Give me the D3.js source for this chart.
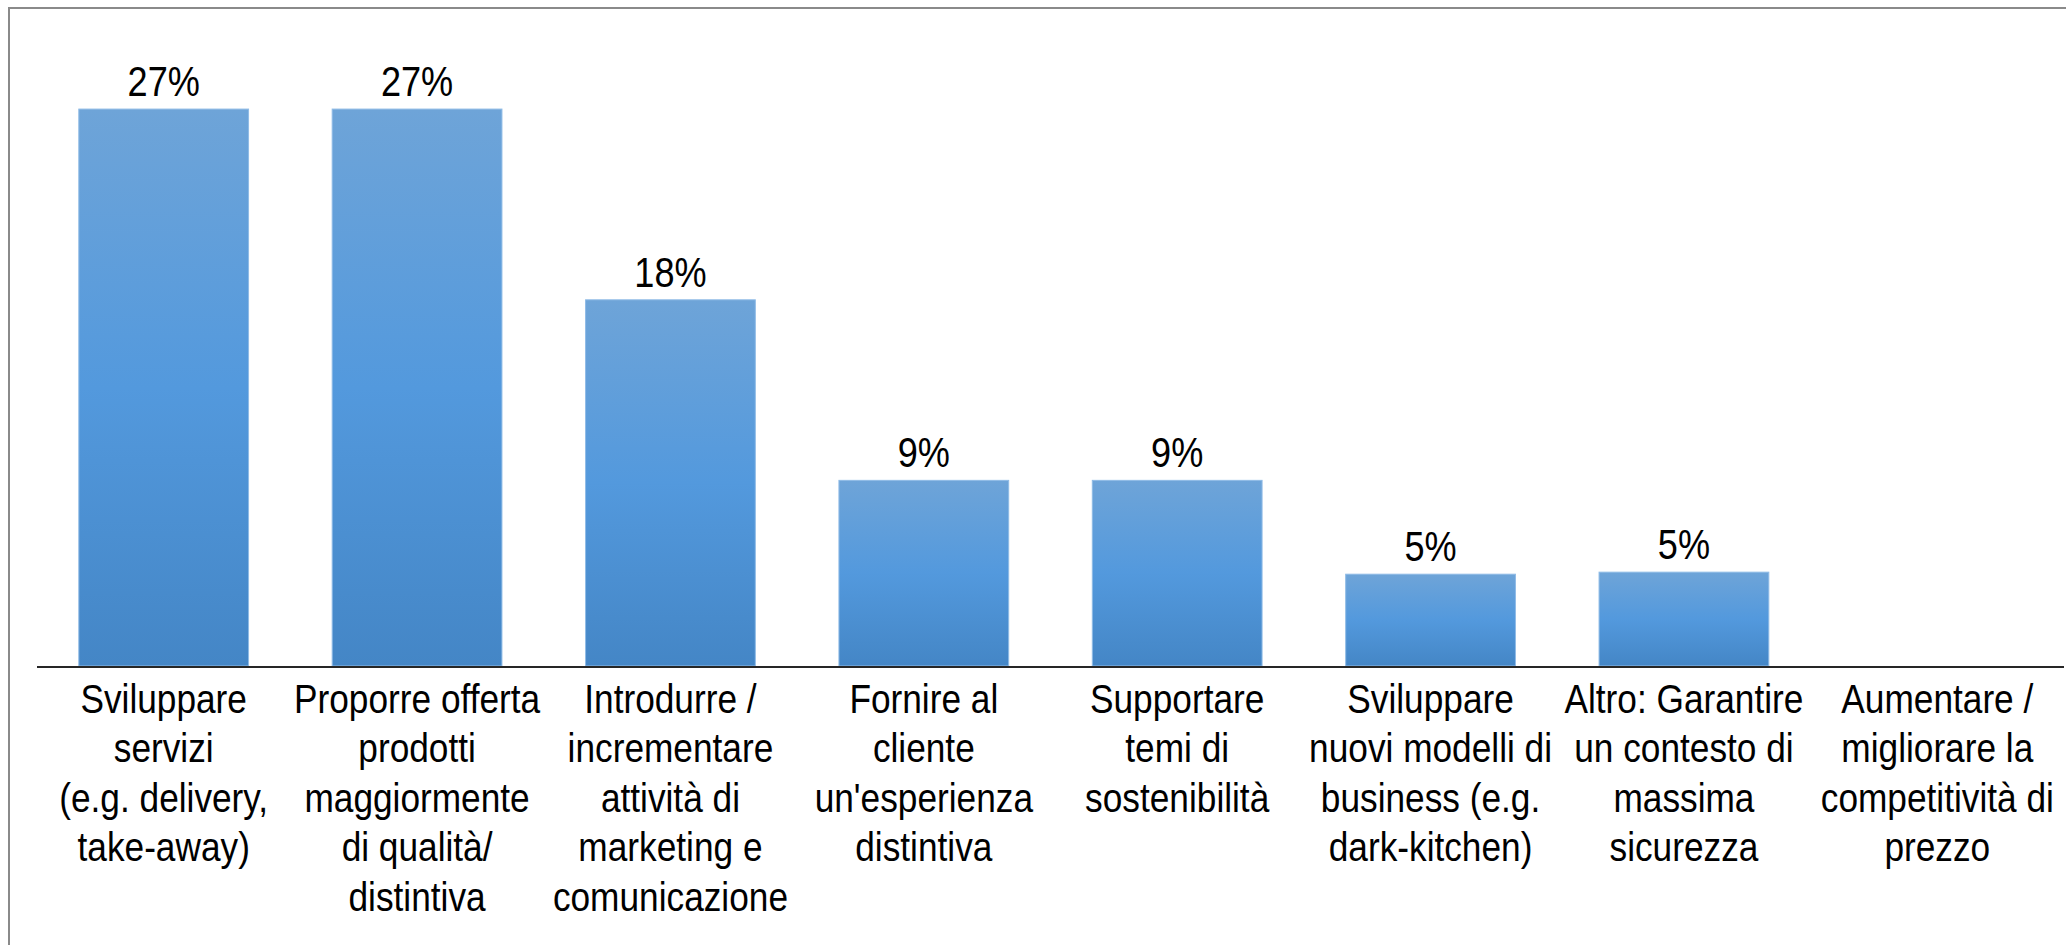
<!DOCTYPE html>
<html>
<head>
<meta charset="utf-8">
<script src="https://cdn.jsdelivr.net/npm/d3@7"></script>
<style>
    html, body { margin: 0; padding: 0; background: #fff; }
    svg { display: block; }
    text { font-family: "Liberation Sans", Arial, sans-serif; fill: #000; }
</style>
</head>
<body>
<div id="chart"></div>
<script>
//Dati del grafico
let categorie = [
    ['Sviluppare', 'servizi', '(e.g. delivery,', 'take-away)'],
    ['Proporre offerta', 'prodotti', 'maggiormente', 'di qualità/', 'distintiva'],
    ['Introdurre /', 'incrementare', 'attività di', 'marketing e', 'comunicazione'],
    ['Fornire al', 'cliente', "un'esperienza", 'distintiva'],
    ['Supportare', 'temi di', 'sostenibilità'],
    ['Sviluppare', 'nuovi modelli di', 'business (e.g.', 'dark-kitchen)'],
    ['Altro: Garantire', 'un contesto di', 'massima', 'sicurezza'],
    ['Aumentare /', 'migliorare la', 'competitività di', 'prezzo']
];
let valori = [27.3, 27.3, 17.95, 9.1, 9.1, 4.5, 4.6, 0];
let etichette = ['27%', '27%', '18%', '9%', '9%', '5%', '5%', ''];

let width = 2066, height = 945;
let squeeze = 0.86;

let svg = d3.select('#chart').append('svg')
    .attr('width', width)
    .attr('height', height);

//Gradiente delle barre
let grad = svg.append('defs').append('linearGradient')
    .attr('id', 'barGrad')
    .attr('x1', 0).attr('y1', 0).attr('x2', 0).attr('y2', 1);
grad.append('stop').attr('offset', '0%').attr('stop-color', '#6ea4d8');
grad.append('stop').attr('offset', '50%').attr('stop-color', '#5399dd');
grad.append('stop').attr('offset', '100%').attr('stop-color', '#4486c6');

//Cornice (solo lati superiore e sinistro visibili)
svg.append('path')
    .attr('d', 'M9,' + height + ' V8 H' + width)
    .attr('fill', 'none')
    .attr('stroke', '#8a8a8a')
    .attr('stroke-width', 2);

let idx = d3.range(valori.length);

let x = d3.scaleBand()
    .domain(idx)
    .range([37, 2064])
    .paddingInner(0.33)
    .paddingOuter(0.165);

let y = d3.scaleLinear()
    .domain([0, 30])
    .range([666, 54]);

//Barre
svg.selectAll('rect.bar')
    .data(idx)
    .enter()
    .append('rect')
    .attr('class', 'bar')
    .attr('x', d => x(d))
    .attr('y', d => y(valori[d]))
    .attr('width', x.bandwidth())
    .attr('height', d => y(0) - y(valori[d]))
    .attr('fill', 'url(#barGrad)')
    .attr('stroke', '#8fbbe6')
    .attr('stroke-width', 1);

//Asse orizzontale
svg.append('line')
    .attr('x1', x.range()[0])
    .attr('x2', x.range()[1])
    .attr('y1', y(0) + 1)
    .attr('y2', y(0) + 1)
    .attr('stroke', '#262626')
    .attr('stroke-width', 2);

//Etichette dei valori
svg.selectAll('g.val')
    .data(idx.filter(d => etichette[d] !== ''))
    .enter()
    .append('g')
    .attr('class', 'val')
    .attr('transform', d => 'translate(' + (x(d) + x.bandwidth() / 2) + ',' + (y(valori[d]) - 13) + ') scale(' + squeeze + ',1)')
    .append('text')
    .attr('text-anchor', 'middle')
    .attr('font-size', 42)
    .text(d => etichette[d]);

//Etichette delle categorie
let cat = svg.selectAll('g.cat')
    .data(idx)
    .enter()
    .append('g')
    .attr('class', 'cat')
    .attr('transform', d => 'translate(' + (x(d) + x.bandwidth() / 2) + ',713) scale(' + squeeze + ',1)');

cat.append('text')
    .attr('text-anchor', 'middle')
    .attr('font-size', 41)
    .selectAll('tspan')
    .data(d => categorie[d])
    .enter()
    .append('tspan')
    .attr('x', 0)
    .attr('y', (d, i) => i * 49.5)
    .text(d => d);
</script>
</body>
</html>
